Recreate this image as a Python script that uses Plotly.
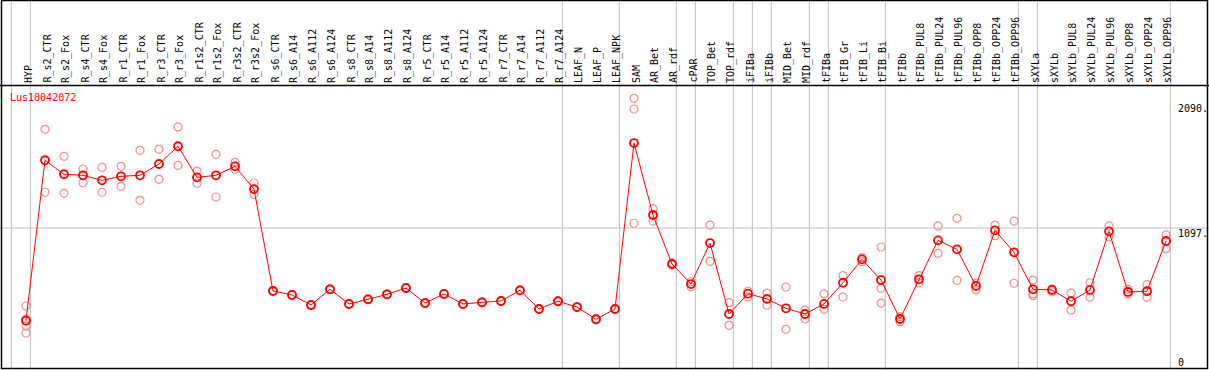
import plotly.graph_objects as go

categories = ["HYP", "R_s2_CTR", "R_s2_Fox", "R_s4_CTR", "R_s4_Fox", "R_r1_CTR", "R_r1_Fox",
              "R_r3_CTR", "R_r3_Fox", "R_r1s2_CTR", "R_r1s2_Fox", "R_r3s2_CTR", "R_r3s2_Fox",
              "R_s6_CTR", "R_s6_A14", "R_s6_A112", "R_s6_A124", "R_s8_CTR", "R_s8_A14",
              "R_s8_A112", "R_s8_A124", "R_r5_CTR", "R_r5_A14", "R_r5_A112", "R_r5_A124",
              "R_r7_CTR", "R_r7_A14", "R_r7_A112", "R_r7_A124", "LEAF_N", "LEAF_P", "LEAF_NPK",
              "SAM", "AR_Bet", "AR_rdf", "cPAR", "TOP_Bet", "TOP_rdf", "iFIBa", "iFIBb",
              "MID_Bet", "MID_rdf", "tFIBa", "tFIB_Gr", "tFIB_Li", "tFIB_Bi", "tFIBb",
              "tFIBb_PUL8", "tFIBb_PUL24", "tFIBb_PUL96", "tFIBb_OPP8", "tFIBb_OPP24",
              "tFIBb_OPP96", "sXYLa", "sXYLb", "sXYLb_PUL8", "sXYLb_PUL24", "sXYLb_PUL96",
              "sXYLb_OPP8", "sXYLb_OPP24", "sXYLb_OPP96"]

means = [376, 1624, 1515, 1507, 1468, 1499, 1507, 1595, 1733, 1491, 1507, 1577, 1400,
         607, 576, 498, 620, 506, 542, 581, 630, 513, 584, 506, 519, 529, 612, 467, 527,
         482, 387, 467,
         1758, 1198, 817, 661, 980, 428, 586, 545, 472, 428, 506, 671, 853, 692, 389,
         698, 1001, 931, 646, 1079, 908, 620, 615, 527, 615, 1071, 599, 605, 996]

replicates = [[490, 389, 335, 280], [1865, 1375], [1655, 1367], [1556, 1449], [1569, 1375],
              [1577, 1421], [1701, 1312], [1709, 1476], [1883, 1585], [1540, 1445],
              [1670, 1338], [1608, 1554], [1447, 1359],
              [610, 604], [579, 573], [501, 495], [623, 617], [509, 503], [545, 539],
              [584, 578], [633, 627], [516, 510], [587, 581], [509, 503], [522, 516],
              [532, 526], [615, 609], [470, 464], [530, 524], [485, 479], [390, 384],
              [470, 464],
              [2106, 2023, 1134], [1247, 1151], [825, 809], [679, 640], [1120, 838],
              [516, 340], [605, 562], [591, 496], [638, 309], [459, 389], [584, 464],
              [726, 560], [866, 835], [949, 628, 513], [407, 368],
              [726, 671], [1113, 900], [1172, 690], [667, 615], [1120, 1037], [1151, 667],
              [692, 584, 570], [622, 601], [591, 459], [671, 558], [1113, 1029],
              [620, 581], [656, 558], [1043, 936]]

group_ends = [-1, 0, 28, 31, 34, 35, 37, 38, 39, 41, 42, 45, 52, 53, 60]

title = "Lus10042072"
y_tick_values = [2090, 1097, 0]
y_tick_labels = ["2090.", "1097.", "0"]

W, H = 1209, 370
FONT = "DejaVu Sans Mono"

x_idx = list(range(len(categories)))
rep_x, rep_y = [], []
for i, reps in enumerate(replicates):
    for v in reps:
        rep_x.append(i)
        rep_y.append(v)

fig = go.Figure()
fig.add_trace(go.Scatter(x=rep_x, y=rep_y, mode="markers",
                         marker=dict(symbol="circle-open", size=8, color="#f08c8c",
                                     line=dict(width=1.2, color="#f08c8c")),
                         hoverinfo="skip", showlegend=False))
fig.add_trace(go.Scatter(x=x_idx, y=means, mode="lines+markers",
                         line=dict(color="#ff0000", width=1),
                         marker=dict(symbol="circle-open", size=8, color="#ff0000",
                                     line=dict(width=1.8, color="#ff0000")),
                         showlegend=False))

# pixel mapping: x_px = 26 + 19*i ; y_px = 369 - v*141/1097
x0 = -26 / 19
x1 = x0 + W / 19
k = 141 / 1097
y0 = -1 / k
y1 = y0 + H / k

shapes = []
for g in group_ends:
    shapes.append(dict(type="line", xref="x", yref="paper", x0=g + 0.23, x1=g + 0.23,
                       y0=0, y1=1, line=dict(color="#c0c0c0", width=1), layer="below"))
shapes.append(dict(type="line", xref="paper", yref="y", x0=0, x1=1, y0=1097, y1=1097,
                   line=dict(color="#c0c0c0", width=1), layer="below"))
hdr = 1 - 85.5 / H
shapes.append(dict(type="line", xref="paper", yref="paper", x0=0, x1=1, y0=hdr, y1=hdr,
                   line=dict(color="black", width=1.5)))
shapes.append(dict(type="rect", xref="paper", yref="paper", x0=1.5 / W, x1=1 - 1.5 / W,
                   y0=1.5 / H, y1=1 - 0.5 / H, line=dict(color="black", width=1.5)))

annotations = []
lab_bottom = 1 - 84 / H
for i, c in enumerate(categories):
    annotations.append(dict(x=i, y=lab_bottom, xref="x", yref="paper", text=c, textangle=-90,
                            showarrow=False, xanchor="center", yanchor="bottom", xshift=2,
                            font=dict(family=FONT, size=10, color="black"), borderpad=0))
annotations.append(dict(x=9 / W, y=1 - 91 / H, xref="paper", yref="paper", text=title,
                        showarrow=False, xanchor="left", yanchor="top", borderpad=0,
                        font=dict(family=FONT, size=10, color="#ff0000")))
tick_tops = [102, 227, 356]
for lab, t in zip(y_tick_labels, tick_tops):
    annotations.append(dict(x=1177 / W, y=1 - t / H, xref="paper", yref="paper", text=lab,
                            showarrow=False, xanchor="left", yanchor="top", borderpad=0,
                            font=dict(family=FONT, size=10, color="black")))

fig.update_layout(width=W, height=H, autosize=False,
                  margin=dict(l=0, r=0, t=0, b=0, pad=0),
                  paper_bgcolor="white", plot_bgcolor="white",
                  xaxis=dict(range=[x0, x1], visible=False, showgrid=False, zeroline=False,
                             fixedrange=True),
                  yaxis=dict(range=[y0, y1], visible=False, showgrid=False, zeroline=False,
                             fixedrange=True),
                  shapes=shapes, annotations=annotations, showlegend=False)

fig.write_html("out.html", config={"displayModeBar": False},
               post_script="document.body.style.margin='0';document.body.style.overflow='hidden';")
